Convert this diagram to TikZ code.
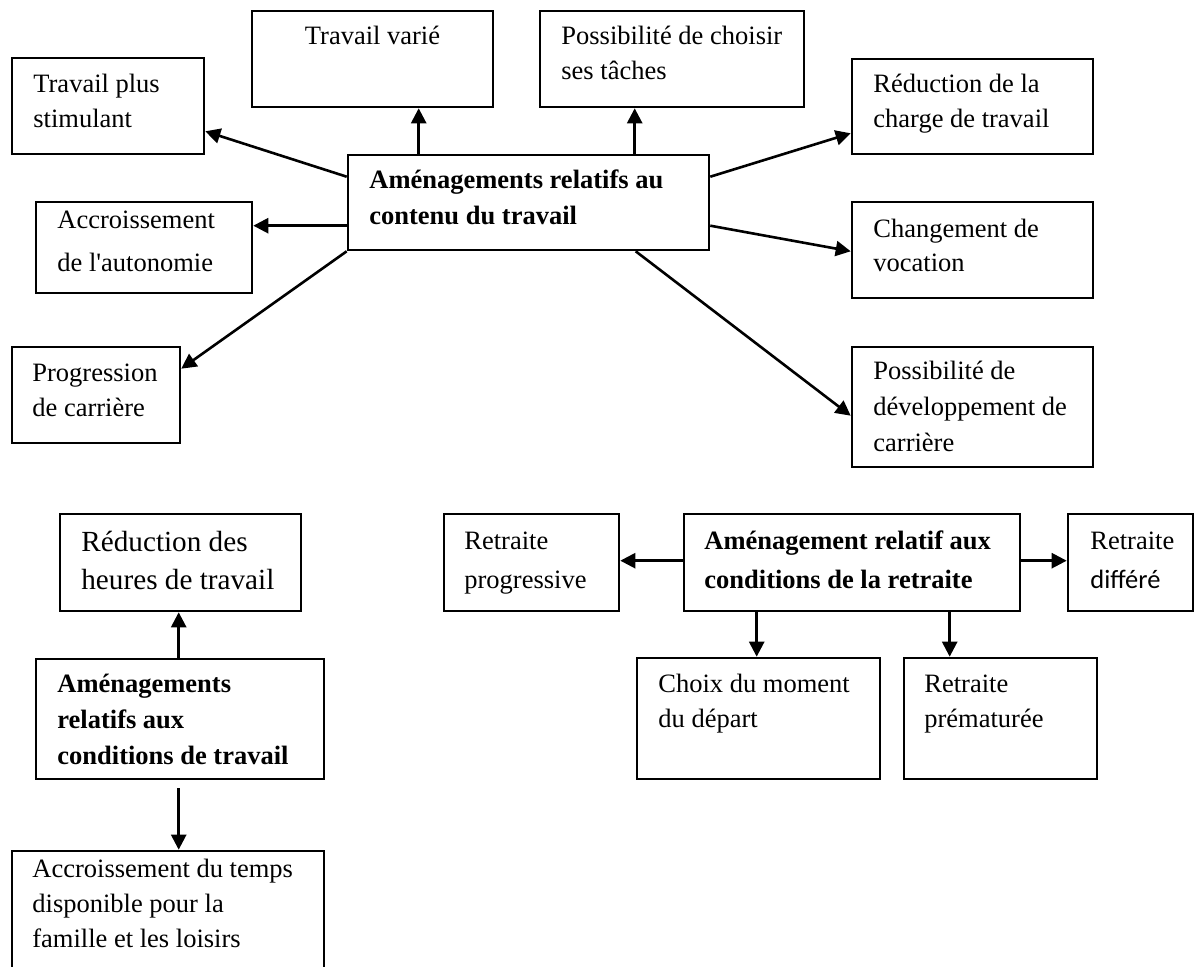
\documentclass[tikz,border=0pt]{standalone}
\usepackage{fontspec}
\setmainfont{Liberation Serif}[Ligatures=TeXOff]
\newfontfamily\calibfont{Carlito}
\usetikzlibrary{fit,calc,arrows.meta}

\newcommand{\txtsize}[1]{\fontsize{13.25pt}{#1}\selectfont}

% text nodes are placed by the baseline of their last line
\tikzset{
  boxst/.style={draw, line width=1.3pt, inner sep=0pt},
  txt/.style={anchor=base west, align=left, inner sep=0pt,
    font=\txtsize{17.5pt}},
  arr/.style={line width=1.3pt, -{Triangle[length=7.5pt,width=7.5pt]}},
}

\begin{document}
\begin{tikzpicture}[x=0.5pt, y=-0.5pt]
\useasboundingbox (0,0) rectangle (1201,967);
\clip (0,0) rectangle (1201,967);

% ---- contenu du travail ----
\node[boxst, fit={(348,155) (709,250)}] (cen) {};
\node[txt, font=\txtsize{18pt}\bfseries] (cen-t) at (369,225)
  {Aménagements relatifs au\\contenu du travail};

\node[boxst, fit={(12,58) (204,154)}] (stim) {};
\node[txt] (stim-t) at (33,128) {Travail plus\\stimulant};

\node[boxst, fit={(252,11) (493,107)}] (varie) {};
\node[txt, anchor=base] (varie-t) at (372.5,45) {Travail varié};

\node[boxst, fit={(540,11) (804,107)}] (choisir) {};
\node[txt] (choisir-t) at (561,80) {Possibilité de choisir\\ses tâches};

\node[boxst, fit={(36,202) (252,293)}] (auto) {};
\node[txt, font=\txtsize{21.5pt}] (auto-t) at (57,272) {Accroissement\\de l'autonomie};

\node[boxst, fit={(12,347) (180,443)}] (prog) {};
\node[txt] (prog-t) at (32,417) {Progression\\de carrière};

\node[boxst, fit={(852,59) (1093,154)}] (charge) {};
\node[txt] (charge-t) at (873,128) {Réduction de la\\charge de travail};

\node[boxst, fit={(852,202) (1093,298)}] (voc) {};
\node[txt, font=\txtsize{17pt}] (voc-t) at (873,272) {Changement de\\vocation};

\node[boxst, fit={(852,347) (1093,467)}] (dev) {};
\node[txt, font=\txtsize{18pt}] (dev-t) at (873,452) {Possibilité de\\développement de\\carrière};

\coordinate (c1) at ($(cen.north west)+(72,0)$);
\coordinate (c2) at ($(cen.north west)+(288,0)$);
\coordinate (c3) at ($(cen.north west)+(0,72)$);
\draw[arr] ($(cen.north west)+(0,23)$) -- ($(stim.south east)+(0,-24)$);
\draw[arr] (c1) -- (c1 |- varie.south);
\draw[arr] (c2) -- (c2 |- choisir.south);
\draw[arr] (c3) -- (c3 -| auto.east);
\draw[arr] (cen.south west) -- ($(prog.north east)+(0,23)$);
\draw[arr] ($(cen.north east)+(0,23)$) -- ($(charge.south west)+(0,-22)$);
\draw[arr] ($(cen.north east)+(0,72)$) -- ($(voc.south west)+(0,-48)$);
\draw[arr] ($(cen.south west)+(289,0)$) -- ($(dev.north west)+(0,70)$);

% ---- conditions de travail ----
\node[boxst, fit={(60,514) (301,611)}] (heures) {};
\node[txt, font=\fontsize{14.6pt}{19pt}\selectfont] (heures-t) at (81,590)
  {Réduction des\\heures de travail};

\node[boxst, fit={(36,659) (324,779)}] (ctrav) {};
\node[txt, font=\txtsize{18pt}\bfseries] (ctrav-t) at (57,765)
  {Aménagements\\relatifs aux\\conditions de travail};

\node[boxst, fit={(12,851) (324,1010)}] (temps) {};
\node[txt] (temps-t) at (32,948)
  {Accroissement du temps\\disponible pour la\\famille et les loisirs};

\coordinate (t1) at ($(ctrav.north west)+(144,0)$);
\coordinate (t2) at ($(ctrav.south west)+(144,8)$);
\draw[arr] (t1) -- (t1 |- heures.south);
\draw[arr] (t2) -- (t2 |- temps.north);

% ---- conditions de la retraite ----
\node[boxst, fit={(684,514) (1020,611)}] (cenr) {};
\node[txt, font=\txtsize{19.5pt}\bfseries] (cenr-t) at (704,589)
  {Aménagement relatif aux\\conditions de la retraite};

\node[boxst, fit={(444,514) (619,611)}] (progr) {};
\node[txt, font=\txtsize{19.5pt}] (progr-t) at (464,589) {Retraite\\progressive};

\node[boxst, fit={(1068,514) (1193,611)}] (diff) {};
\node[txt, font=\txtsize{19.5pt}] (diff-t) at (1090,589) {Retraite\\{\calibfont différé}};

\node[boxst, fit={(637,658) (880,779)}] (choix) {};
\node[txt] (choix-t) at (658,728) {Choix du moment\\du départ};

\node[boxst, fit={(904,658) (1097,779)}] (premat) {};
\node[txt] (premat-t) at (924,728) {Retraite\\prématurée};

\coordinate (r1) at ($(cenr.north west)+(0,48)$);
\coordinate (r2) at ($(cenr.north east)+(0,48)$);
\coordinate (r3) at ($(cenr.south west)+(74,0)$);
\coordinate (r4) at ($(cenr.south west)+(267,0)$);
\draw[arr] (r1) -- (r1 -| progr.east);
\draw[arr] (r2) -- (r2 -| diff.west);
\draw[arr] (r3) -- (r3 |- choix.north);
\draw[arr] (r4) -- (r4 |- premat.north);
\end{tikzpicture}
\end{document}
